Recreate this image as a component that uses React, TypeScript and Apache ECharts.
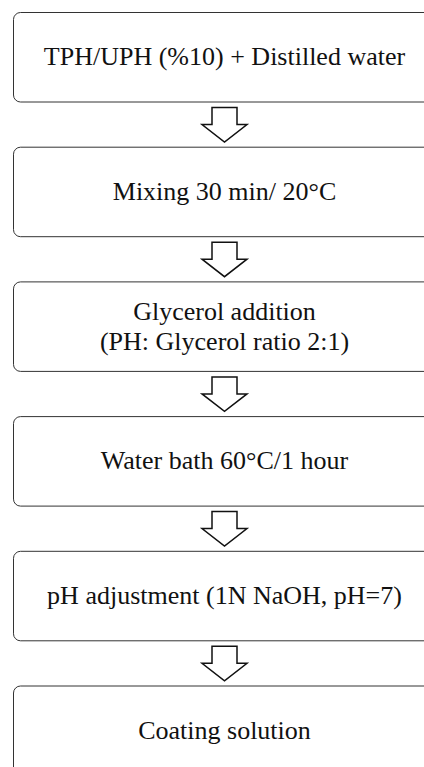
import React, { useEffect, useRef } from "react";
import * as echarts from "echarts";

const stepLabels: string[] = [
  "TPH/UPH (%10) + Distilled water",
  "Mixing 30 min/ 20°C",
  "Glycerol addition\n(PH: Glycerol ratio 2:1)",
  "Water bath 60°C/1 hour",
  "pH adjustment (1N NaOH, pH=7)",
  "Coating solution",
];

export default function App() {
  const ref = useRef<HTMLDivElement>(null);
  useEffect(() => {
    document.body.style.margin = "0";
    const chart = echarts.init(ref.current!, null, { renderer: "svg" });
    const boxLeft = 13;
    const boxWidth = 423;
    const boxTop0 = 12;
    const boxH = 89.5;
    const pitch = 134.7;
    const cx = 224.5;
    const elements: any[] = [];
    stepLabels.forEach((label, i) => {
      const top = boxTop0 + i * pitch;
      elements.push({
        type: "rect",
        shape: { x: boxLeft + 0.5, y: top + 0.5, width: boxWidth, height: boxH, r: 7 },
        style: { fill: "#fff", stroke: "#333", lineWidth: 1 },
      });
      elements.push({
        type: "text",
        x: cx,
        y: top + boxH / 2,
        style: {
          text: label,
          fill: "#111",
          font: "26px 'Liberation Serif'",
          align: "center",
          verticalAlign: "middle",
          lineHeight: 30,
        },
      });
      if (i < stepLabels.length - 1) {
        const a0 = top + boxH + 6;
        const hb = a0 + 17;
        const tip = a0 + 34.5;
        const sw = 12.5;
        const hw = 22.5;
        elements.push({
          type: "polygon",
          shape: {
            points: [
              [cx - sw, a0],
              [cx + sw, a0],
              [cx + sw, hb],
              [cx + hw, hb],
              [cx, tip],
              [cx - hw, hb],
              [cx - sw, hb],
            ],
          },
          style: { fill: "#fff", stroke: "#111", lineWidth: 1.5 },
        });
      }
    });
    chart.setOption({ animation: false, graphic: { elements } });
    return () => chart.dispose();
  }, []);
  return (
    <div
      ref={ref}
      style={{ position: "fixed", left: 0, top: 0, width: 424, height: 767, background: "#fff" }}
    />
  );
}
